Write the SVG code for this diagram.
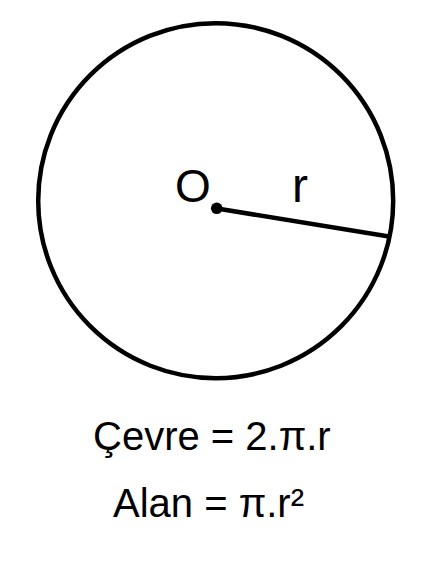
<svg xmlns="http://www.w3.org/2000/svg" width="442" height="569" viewBox="0 0 442 569">
<style>
.lbl{font-family:"Liberation Sans",Arial,sans-serif;fill:#000}
.shape{fill:none;stroke:#000;stroke-width:4.5}
</style>
<rect width="442" height="569" fill="#fff"/>
<g id="circle"><circle class="shape" cx="215.7" cy="200.7" r="177.5"/></g>
<g id="connectors"><line class="shape" x1="217" y1="208.5" x2="389" y2="236.5" stroke-linecap="butt"/></g>
<g id="center"><circle cx="216.7" cy="208.3" r="5.8" fill="#000"/></g>
<g id="labels">
<text class="lbl" x="175" y="201.5" font-size="46">O</text>
<text class="lbl" x="292" y="202" font-size="48">r</text>
<text class="lbl" x="93" y="449.5" font-size="40">Çevre = 2.π.r</text>
<text class="lbl" x="113" y="517" font-size="40">Alan = π.r²</text>
</g>
</svg>
